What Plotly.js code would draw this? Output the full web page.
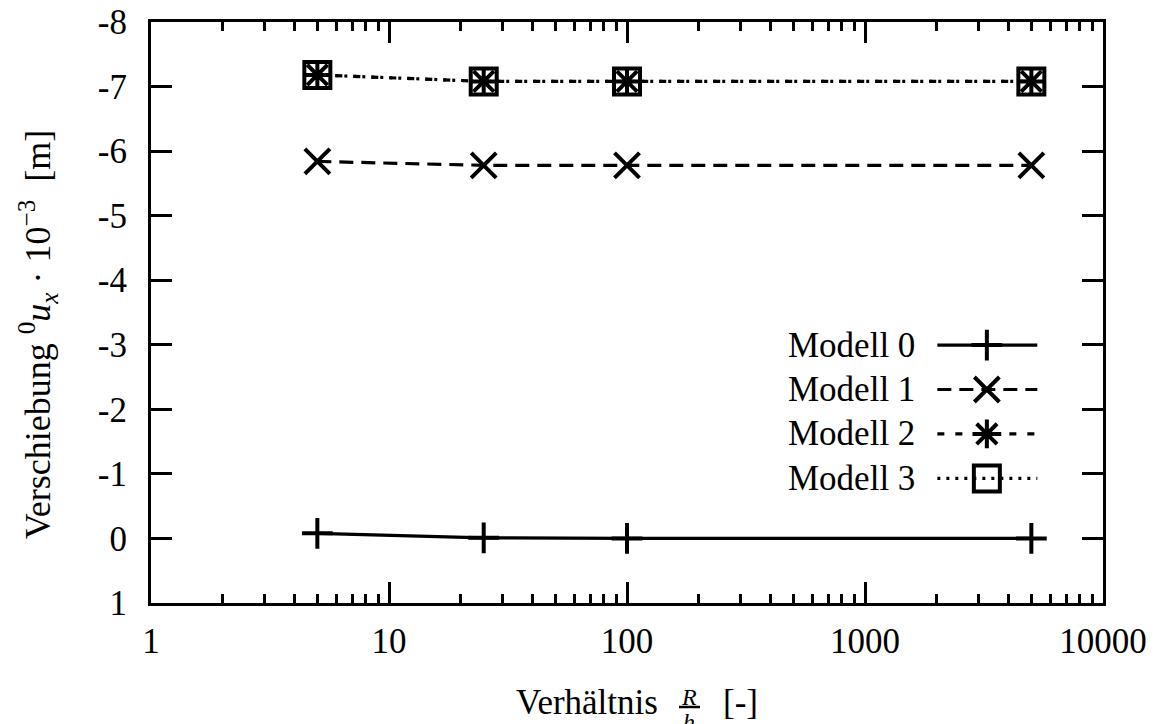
<!DOCTYPE html>
<html>
<head>
<meta charset="utf-8">
<script src="https://cdn.plot.ly/plotly-3.0.1.min.js"></script>
<style>html,body{margin:0;padding:0;background:#fff;}</style>
</head>
<body>
<div id="chart" style="width:1155px;height:724px;"></div>
<script>
// Verhältnis R/h and the displacement of each model (in 10^-3 m)
const ratio   = [5, 25, 100, 5000];
const modell0 = [-0.08, -0.01, 0.0, 0.0];
const modell1 = [-5.84, -5.78, -5.78, -5.78];
const modell2 = [-7.18, -7.08, -7.08, -7.08];
const modell3 = [-7.18, -7.08, -7.08, -7.08];
const seriesNames = ['Modell 0', 'Modell 1', 'Modell 2', 'Modell 3'];

const xTickVals = [1, 10, 100, 1000, 10000];
const xTickText = ['1', '10', '100', '1000', '10000'];
const yTickVals = [-8, -7, -6, -5, -4, -3, -2, -1, 0, 1];
const yTickText = ['-8', '-7', '-6', '-5', '-4', '-3', '-2', '-1', '0', '1'];

// line / point styles per model (gnuplot-like)
const styles = [
  {dash: 'solid',     symbol: 'cross-thin-open', size: 22},
  {dash: '14px,8px',  symbol: 'x-thin-open',     size: 25},
  {dash: '7px,11px',  symbol: 'asterisk-open',   size: 24},
  {dash: '3px,6px',   symbol: 'square-open',     size: 26}
];
const seriesValues = [modell0, modell1, modell2, modell3];

// minor log ticks 2..9 in every decade
const minorVals = [];
for (let d = 1; d < 10000; d *= 10) {
  for (let k = 2; k <= 9; k++) minorVals.push(k * d);
}

const traces = [];
seriesValues.forEach((vals, i) => {
  const s = styles[i];
  traces.push({
    x: ratio, y: vals, name: seriesNames[i], type: 'scatter', mode: 'lines+markers',
    line: {color: '#000', width: 3.2, dash: s.dash},
    marker: {symbol: s.symbol, size: s.size, color: '#000', line: {color: '#000', width: 4}},
    showlegend: false, cliponaxis: false
  });
});

// key box inside the plot: text on the left, sample line with point on the right
const keyX0 = 0.826, keyX1 = 0.931, keyXm = 0.878, keyTextX = 0.805;
const keyTop = 0.444, keyStep = 0.0765;
const annotations = [];
seriesNames.forEach((name, i) => {
  const s = styles[i];
  const yy = keyTop - i * keyStep;
  traces.push({
    x: [keyX0, keyX1], y: [yy, yy], xaxis: 'x2', yaxis: 'y2', mode: 'lines',
    line: {color: '#000', width: 3.2, dash: s.dash}, showlegend: false, hoverinfo: 'skip'
  });
  traces.push({
    x: [keyXm], y: [yy], xaxis: 'x2', yaxis: 'y2', mode: 'markers',
    marker: {symbol: s.symbol, size: s.size, color: '#000', line: {color: '#000', width: 4}},
    showlegend: false, hoverinfo: 'skip'
  });
  annotations.push({
    xref: 'paper', yref: 'paper', x: keyTextX, y: yy, xanchor: 'right', yanchor: 'middle',
    text: name, showarrow: false, font: {size: 35}
  });
});

// axis titles
annotations.push({
  xref: 'paper', yref: 'paper', x: -0.119, y: 0.462, xanchor: 'center', yanchor: 'middle',
  textangle: -90, showarrow: false, font: {size: 36},
  text: 'Verschiebung <sup>0</sup><i>u</i><sub><i>x</i></sub> · 10<sup>−3</sup>  [m]'
});
annotations.push({
  xref: 'paper', yref: 'paper', x: 0.5347, y: -0.172, xanchor: 'right', yanchor: 'middle',
  showarrow: false, font: {size: 35}, text: 'Verhältnis'
});
annotations.push({
  xref: 'paper', yref: 'paper', x: 0.5656, y: -0.161, xanchor: 'center', yanchor: 'middle',
  showarrow: false, font: {size: 24}, text: '<i>R</i>'
});
annotations.push({
  xref: 'paper', yref: 'paper', x: 0.5656, y: -0.205, xanchor: 'center', yanchor: 'middle',
  showarrow: false, font: {size: 24}, text: '<i>h</i>'
});
annotations.push({
  xref: 'paper', yref: 'paper', x: 0.5985, y: -0.172, xanchor: 'left', yanchor: 'middle',
  showarrow: false, font: {size: 35}, text: '[-]'
});

const layout = {
  width: 1155, height: 724,
  margin: {l: 151, r: 52, t: 22, b: 121},
  paper_bgcolor: '#fff', plot_bgcolor: '#fff',
  font: {family: '"Liberation Serif", "DejaVu Serif", serif', size: 35, color: '#000'},
  showlegend: false,
  xaxis: {
    type: 'log', range: [0, 4], tickmode: 'array', tickvals: xTickVals, ticktext: xTickText,
    ticks: 'inside', ticklen: 21, tickwidth: 3, tickcolor: '#000',
    showline: true, linewidth: 3, linecolor: '#000', mirror: 'ticks',
    showgrid: false, zeroline: false, ticklabelstandoff: 5,
    minor: {tickmode: 'array', tickvals: minorVals, ticks: 'inside', ticklen: 9, tickwidth: 3, tickcolor: '#000', showgrid: false}
  },
  yaxis: {
    range: [1, -8], tickmode: 'array', tickvals: yTickVals, ticktext: yTickText,
    ticks: 'inside', ticklen: 21, tickwidth: 3, tickcolor: '#000',
    showline: true, linewidth: 3, linecolor: '#000', mirror: 'ticks',
    showgrid: false, zeroline: false, ticklabelstandoff: 14
  },
  xaxis2: {overlaying: 'x', anchor: 'y2', range: [0, 1], visible: false, fixedrange: true},
  yaxis2: {overlaying: 'y', anchor: 'x2', range: [0, 1], visible: false, fixedrange: true},
  annotations: annotations,
  shapes: [{
    type: 'line', xref: 'paper', yref: 'paper', x0: 0.5546, x1: 0.5767, y0: -0.179, y1: -0.179,
    line: {color: '#000', width: 2.5}
  }]
};

Plotly.newPlot('chart', traces, layout, {displayModeBar: false, staticPlot: true});
</script>
</body>
</html>
